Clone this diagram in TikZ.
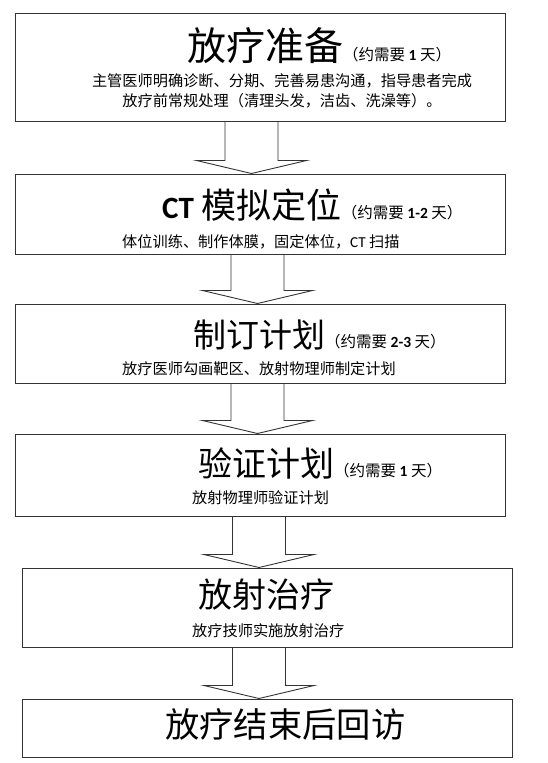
\documentclass[tikz,border=0pt]{standalone}
\usepackage{fontspec}
\setmainfont{Noto Sans CJK SC}
\newfontfamily\calib{Carlito}
\usetikzlibrary{positioning,calc}
\newcommand{\needdays}[1]{{\fontsize{15.5}{16}\selectfont （约需要 {\calib\bfseries #1} 天）}}

\begin{document}
\begin{tikzpicture}[x=1pt, y=-1pt,
	block/.style = { rectangle, draw=black!80, line width=1pt,
	minimum width=490pt, inner sep=0pt },
	head/.style = { anchor=base west, inner sep=0pt },
	note/.style = { anchor=base west, inner sep=0pt,
	font=\fontsize{15.2}{20}\selectfont },
	flow/.style = { draw=black!80, line width=0.9pt, line join=miter } ]

  \useasboundingbox (0,0) rectangle (547,763);

  \node [name=prep, block, minimum height=108pt] at (260,67) {};
  \node [name=ctsim, block, minimum height=80pt, below=52pt of prep] {};
  \node [name=plan, block, minimum height=79pt, below=49pt of ctsim] {};
  \node [name=verify, block, minimum height=82pt, below=50pt of plan] {};
  \node [name=treat, block, minimum height=79pt,
	below=51pt of verify, xshift=7pt] {};
  \node [name=followup, block, minimum height=58pt, below=51pt of treat] {};

  \node [name=preptitle, head, font=\fontsize{39}{39}\selectfont]
	at (187,60) { 放疗准备\needdays{1} };
  \node [name=prepnote, anchor=center, align=center, inner sep=0pt,
	font=\fontsize{15.2}{20}\selectfont] at (282,91.2)
	{ 主管医师明确诊断、分期、完善易患沟通，指导患者完成\\放疗前常规处理（清理头发，洁齿、洗澡等）。 };

  \node [name=cttitle, head, font=\fontsize{35}{35}\selectfont]
	at (162,218) { {\calib\bfseries\fontsize{31}{31}\selectfont CT} 模拟定位\needdays{1-2} };
  \node [name=ctnote, note] at (122,247) { 体位训练、制作体膜，固定体位，{\calib CT} 扫描 };

  \node [name=plantitle, head, font=\fontsize{33}{33}\selectfont]
	at (193,347) { 制订计划\needdays{2-3} };
  \node [name=plannote, note] at (122,374) { 放疗医师勾画靶区、放射物理师制定计划 };

  \node [name=verifytitle, head, font=\fontsize{34}{34}\selectfont]
	at (198,476) { 验证计划\needdays{1} };
  \node [name=verifynote, note] at (192,503) { 放射物理师验证计划 };

  \node [name=treattitle, head, font=\fontsize{34}{34}\selectfont]
	at (198,607) { 放射治疗 };
  \node [name=treatnote, note] at (192,636) { 放疗技师实施放射治疗 };

  \node [name=followuptitle, head, font=\fontsize{34.3}{34.3}\selectfont]
	at (165,737) { 放疗结束后回访 };

  % hollow arrows between the steps
  \foreach \a/\b/\dx in {prep/ctsim/-8.5, ctsim/plan/-2.5, plan/verify/-2.5,
	verify/treat/-1, treat/followup/-8} {
    \coordinate (top) at ($(\a.south)+(\dx,0)$);
    \coordinate (tip) at (top |- \b.north);
    \draw [flow] ($(top)+(-26.5,0)$) -- ($(tip)+(-26.5,-13)$)
	-- ($(tip)+(-55,-13)$) -- (tip) -- ($(tip)+(55,-13)$)
	-- ($(tip)+(26.5,-13)$) -- ($(top)+(26.5,0)$);
  }
\end{tikzpicture}
\end{document}
